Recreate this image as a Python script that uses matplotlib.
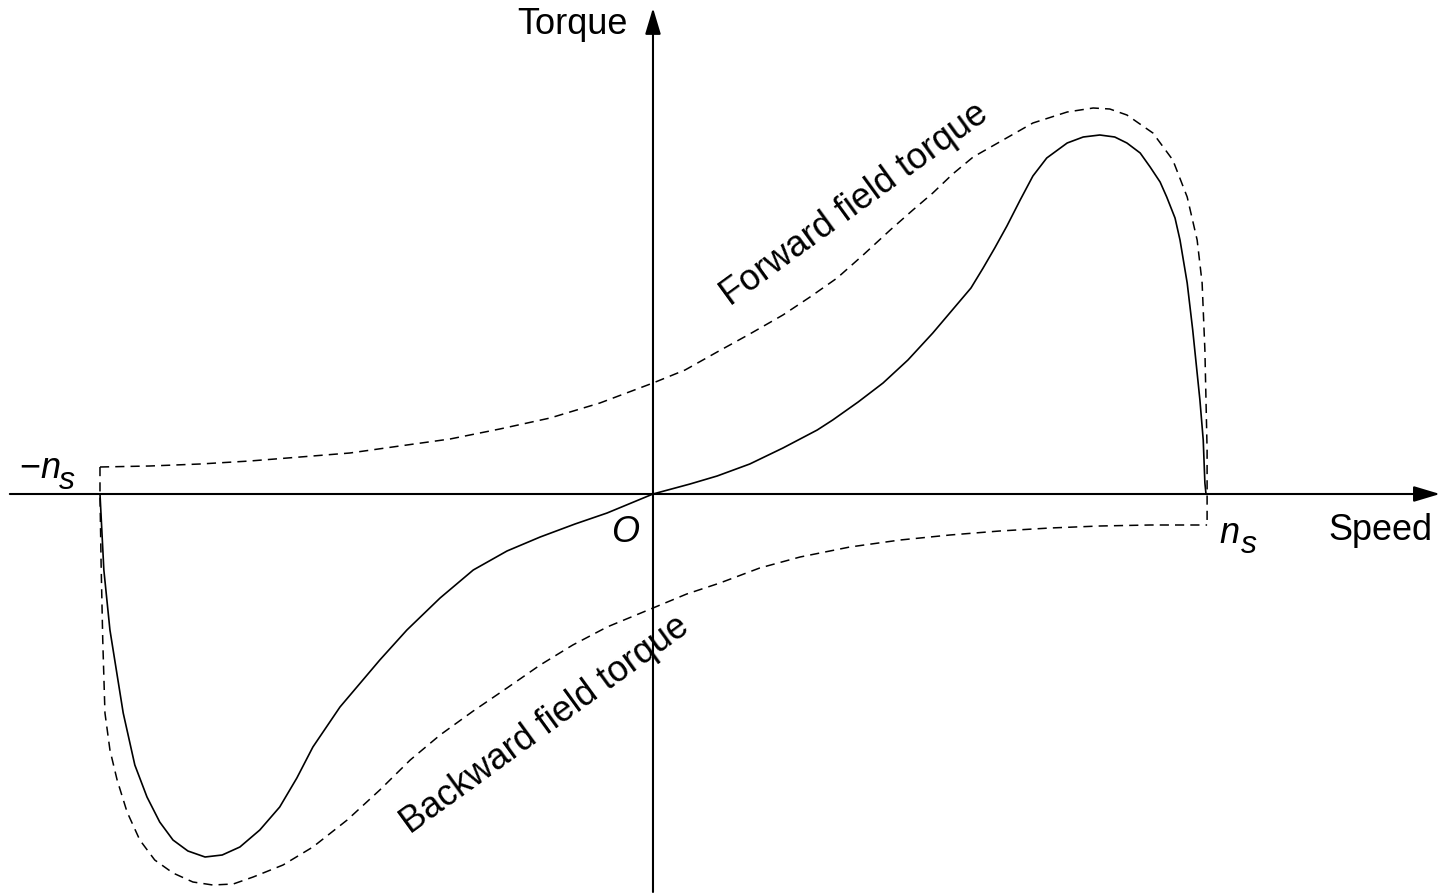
import matplotlib
matplotlib.use("Agg")
import matplotlib.pyplot as plt

plt.rcParams['font.family'] = ['Liberation Sans', 'DejaVu Sans']
plt.rcParams['mathtext.fontset'] = 'custom'
plt.rcParams['mathtext.rm'] = 'Liberation Sans'
plt.rcParams['mathtext.it'] = 'Liberation Sans:italic'

# speed as fraction of synchronous speed n_s, torque in arbitrary units
net_speed = [-1.0, -0.993, -0.982, -0.958, -0.937, -0.915, -0.892, -0.868, -0.841,
             -0.810, -0.779, -0.747, -0.711, -0.675, -0.644, -0.615, -0.566, -0.494,
             -0.445, -0.385, -0.325, -0.264, -0.204, -0.141, -0.083, 0.0, 0.067,
             0.116, 0.175, 0.235, 0.297, 0.325, 0.371, 0.416, 0.461, 0.506, 0.552,
             0.575, 0.597, 0.618, 0.640, 0.664, 0.687, 0.712, 0.749, 0.778, 0.808,
             0.835, 0.857, 0.881, 0.899, 0.917, 0.929, 0.944, 0.953, 0.966, 0.976,
             0.989, 0.995, 0.998, 1.0]
net_torque = [0.0, -0.76, -1.36, -2.19, -2.71, -3.03, -3.28, -3.46, -3.57,
              -3.63, -3.61, -3.53, -3.36, -3.13, -2.84, -2.53, -2.13, -1.66,
              -1.36, -1.04, -0.76, -0.57, -0.43, -0.30, -0.19, 0.0, 0.10,
              0.18, 0.30, 0.46, 0.64, 0.74, 0.92, 1.11, 1.34, 1.61, 1.91,
              2.06, 2.26, 2.46, 2.68, 2.94, 3.18, 3.36, 3.51, 3.57, 3.59,
              3.57, 3.51, 3.41, 3.27, 3.12, 2.97, 2.76, 2.54, 2.11, 1.64,
              0.94, 0.54, 0.11, 0.0]

fwd_speed = [-1.0, -0.910, -0.819, -0.729, -0.638, -0.548, -0.458, -0.367, -0.277,
             -0.186, -0.096, 0.0, 0.058, 0.116, 0.175, 0.235, 0.284, 0.333, 0.380,
             0.429, 0.470, 0.506, 0.542, 0.579, 0.633, 0.687, 0.749, 0.796, 0.826,
             0.857, 0.904, 0.940, 0.966, 0.984, 0.993, 0.998, 1.002, 1.002]
fwd_torque = [0.27, 0.28, 0.30, 0.33, 0.37, 0.41, 0.48, 0.55, 0.65,
              0.76, 0.91, 1.11, 1.24, 1.42, 1.60, 1.79, 1.97, 2.16, 2.39,
              2.64, 2.84, 3.01, 3.20, 3.37, 3.54, 3.71, 3.82, 3.86, 3.85,
              3.79, 3.61, 3.34, 2.97, 2.54, 2.11, 1.44, 0.44, -0.31]

bwd_speed = [-1.0, -1.0, -0.998, -0.995, -0.991, -0.982, -0.969, -0.951, -0.928,
             -0.901, -0.868, -0.832, -0.796, -0.759, -0.723, -0.669, -0.615, -0.553,
             -0.494, -0.439, -0.385, -0.325, -0.264, -0.204, -0.145, -0.083, 0.0,
             0.061, 0.121, 0.193, 0.266, 0.356, 0.447, 0.537, 0.627, 0.718, 0.808,
             0.899, 1.002]
bwd_torque = [0.27, 0.0, -0.69, -1.46, -2.19, -2.56, -2.86, -3.18, -3.46,
              -3.66, -3.79, -3.88, -3.91, -3.90, -3.83, -3.71, -3.53, -3.26,
              -2.96, -2.66, -2.41, -2.17, -1.94, -1.71, -1.51, -1.33, -1.14,
              -1.00, -0.89, -0.74, -0.63, -0.53, -0.46, -0.41, -0.37, -0.34, -0.32,
              -0.31, -0.31]

fig = plt.figure(figsize=(14.45, 8.94), dpi=100)
ax = fig.add_axes([0, 0, 1, 1])
ax.set_xlim(-1.1808, 1.4322)
ax.set_ylim(-4.0, 4.94)
ax.axis('off')

# axes with arrows
arrow = dict(arrowstyle='-|>,head_length=1.0,head_width=0.3', color='black',
             lw=1.5, shrinkA=0, shrinkB=0, mutation_scale=16)
ax.annotate('', xy=(1.423, 0), xytext=(-1.163, 0), arrowprops=arrow)
ax.annotate('', xy=(0, 4.86), xytext=(0, -3.98), arrowprops=arrow)

ax.plot(net_speed, net_torque, color='black', lw=1.2)
ax.plot(fwd_speed, fwd_torque, color='black', lw=1.1, dashes=(6, 4))
ax.plot(bwd_speed, bwd_torque, color='black', lw=1.1, dashes=(6, 4))

fs = 26
ax.text(-0.146, 4.69, 'Torque', fontsize=fs, ha='center', va='center')
ax.text(1.316, -0.37, 'Speed', fontsize=fs, ha='center', va='center')
ax.text(-0.051, -0.39, 'O', fontsize=fs, style='italic', ha='center', va='center')
ax.text(-1.072, 0.16, r'$-n$', fontsize=fs, ha='right', va='baseline')
ax.text(-1.074, 0.05, 's', fontsize=23, style='italic', ha='left', va='baseline')
ax.text(1.025, -0.49, 'n', fontsize=fs, style='italic', ha='left', va='baseline')
ax.text(1.063, -0.59, 's', fontsize=23, style='italic', ha='left', va='baseline')
ax.text(0.365, 2.89, 'Forward field torque', fontsize=fs, rotation=36,
        ha='center', va='center', rotation_mode='anchor')
ax.text(-0.195, -2.31, 'Backward field torque', fontsize=fs, rotation=36,
        ha='center', va='center', rotation_mode='anchor')

fig.savefig('out.png', dpi=100)
